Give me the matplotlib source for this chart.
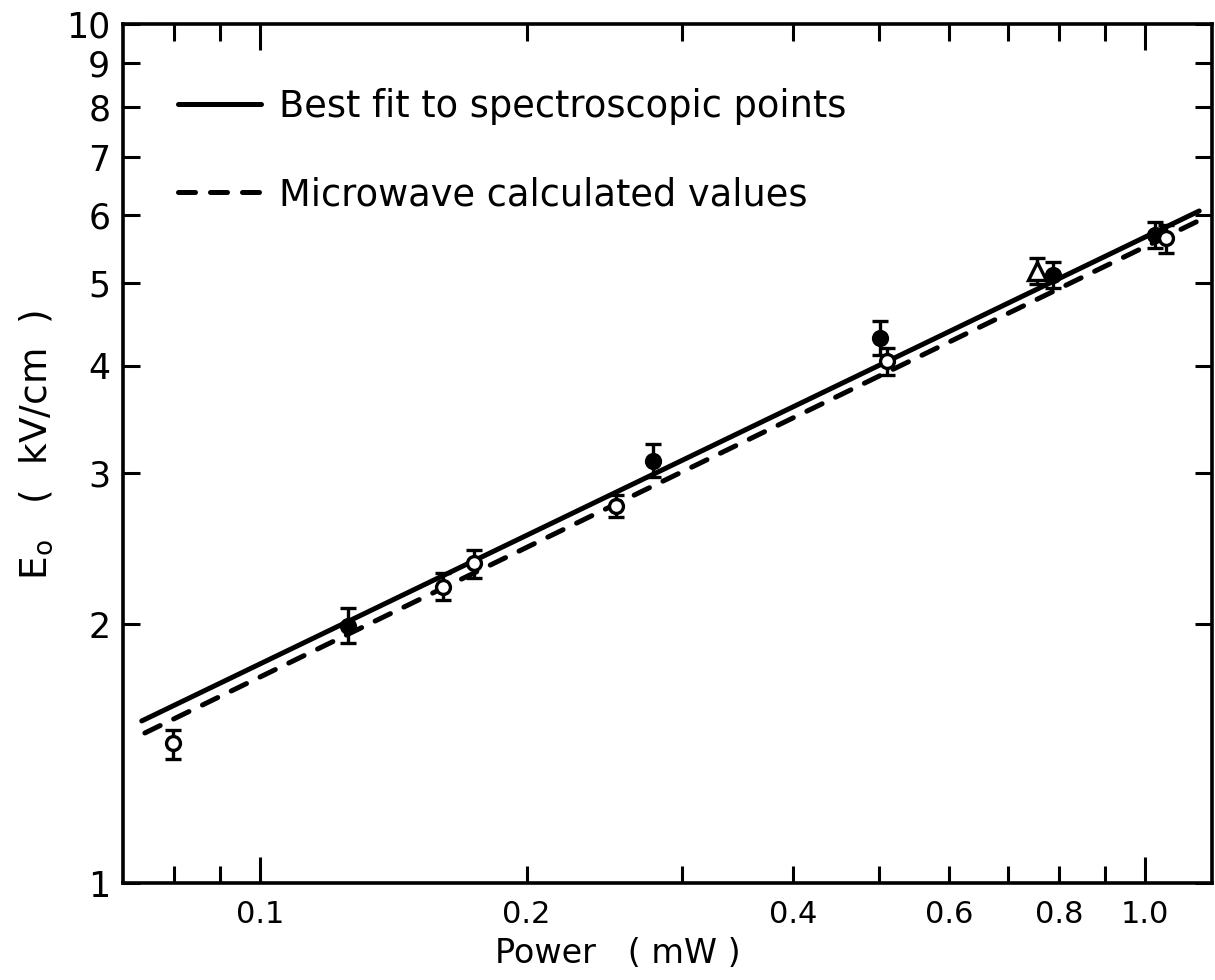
import matplotlib

matplotlib.use("Agg")
import matplotlib.pyplot as plt
from matplotlib.ticker import FixedLocator, FixedFormatter, NullLocator

# fitted lines (end points)
fit_p = [0.0735, 1.151]
fit_e = [1.544, 6.058]
calc_p = [0.0741, 1.148]
calc_e = [1.495, 5.898]

# spectroscopic points: power (mW), E0 (kV/cm), error bar low/high
filled_p = [0.1257, 0.2776, 0.5013, 0.787, 1.026]
filled_e = [1.992, 3.099, 4.310, 5.103, 5.680]
filled_lo = [1.903, 2.969, 4.118, 4.929, 5.485]
filled_hi = [2.090, 3.244, 4.511, 5.284, 5.882]

open_p = [0.0797, 0.161, 0.1746, 0.2521, 0.5106, 1.056]
open_e = [1.455, 2.212, 2.358, 2.748, 4.052, 5.634]
open_lo = [1.394, 2.135, 2.265, 2.668, 3.903, 5.412]
open_hi = [1.507, 2.296, 2.442, 2.830, 4.196, 5.834]

tri_p = [0.7547]
tri_e = [5.158]
tri_lo = [4.983]
tri_hi = [5.341]

x_major = [0.1, 1.0]
x_major_labels = ["0.1", "1.0"]
x_minor = [0.08, 0.09, 0.2, 0.3, 0.4, 0.5, 0.6, 0.7, 0.8, 0.9]
x_minor_labels = ["", "", "0.2", "", "0.4", "", "0.6", "", "0.8", ""]
y_ticks = [1, 2, 3, 4, 5, 6, 7, 8, 9, 10]


def bars(e, lo, hi):
    return [[v - l for v, l in zip(e, lo)], [h - v for v, h in zip(e, hi)]]


fig = plt.figure(figsize=(12.15, 9.8), dpi=100)
ax = fig.add_axes([123 / 1215, 1 - 883 / 980, 1089 / 1215, 859 / 980])
ax.set_xscale("log")
ax.set_yscale("log")

ax.plot(fit_p, fit_e, color="black", lw=3.6, solid_capstyle="round",
        label="Best fit to spectroscopic points", zorder=2)
ax.plot(calc_p, calc_e, color="black", lw=3.6, dashes=(3.4, 3.0),
        dash_capstyle="round", label="Microwave calculated values", zorder=2)

eb = dict(ecolor="black", elinewidth=2.4, capsize=5.5, capthick=2.4, ms=10,
          mec="black", mew=2.4, ls="none", zorder=3)
ax.errorbar(tri_p, tri_e, yerr=bars(tri_e, tri_lo, tri_hi), fmt="^",
            mfc="white", **{**eb, "ms": 13})
ax.errorbar(filled_p, filled_e, yerr=bars(filled_e, filled_lo, filled_hi),
            fmt="o", mfc="black", **eb)
ax.errorbar(open_p, open_e, yerr=bars(open_e, open_lo, open_hi),
            fmt="o", mfc="white", **eb)

ax.set_xlim(0.07, 1.19)
ax.set_ylim(1, 10)

ax.xaxis.set_major_locator(FixedLocator(x_major))
ax.xaxis.set_major_formatter(FixedFormatter(x_major_labels))
ax.xaxis.set_minor_locator(FixedLocator(x_minor))
ax.xaxis.set_minor_formatter(FixedFormatter(x_minor_labels))
ax.yaxis.set_major_locator(FixedLocator(y_ticks))
ax.yaxis.set_major_formatter(FixedFormatter([str(v) for v in y_ticks]))
ax.yaxis.set_minor_locator(NullLocator())

ax.tick_params(axis="both", which="both", direction="in", top=True, right=True,
               width=2.2, color="black")
ax.tick_params(axis="x", which="major", length=19, labelsize=22, pad=12)
ax.tick_params(axis="x", which="minor", length=12, labelsize=22, pad=12)
ax.tick_params(axis="y", which="major", length=12, labelsize=25, pad=9)
for s in ax.spines.values():
    s.set_linewidth(2.6)

ax.set_xlabel("Power   ( mW )", fontsize=24)
ax.xaxis.set_label_coords(0.4545, -0.063)
ax.set_ylabel(r"E$_\mathrm{o}$   (  kV/cm  )", fontsize=27)
ax.yaxis.set_label_coords(-0.062, 0.51)

ax.legend(loc="upper left", bbox_to_anchor=(0.0505, 0.926), frameon=False,
          fontsize=26.5, handlelength=2.25, handletextpad=0.5, labelspacing=1.4,
          borderpad=0, borderaxespad=0)

fig.savefig("out.png", dpi=100)
